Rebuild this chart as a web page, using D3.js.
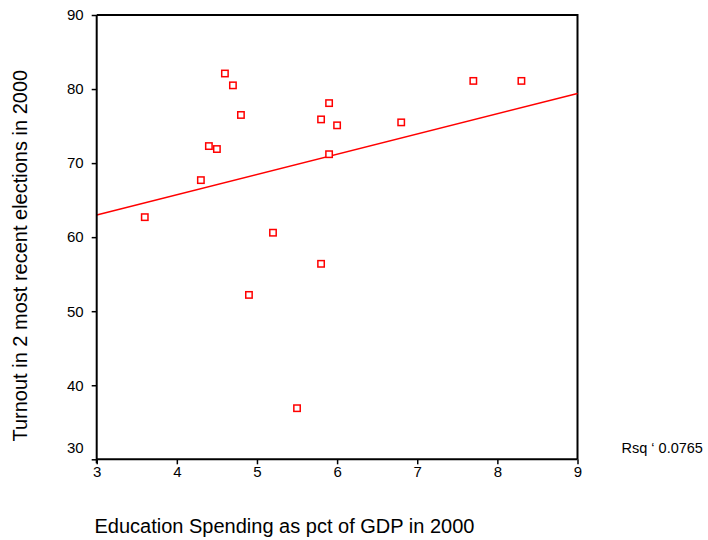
<!DOCTYPE html>
<html>
<head>
<meta charset="utf-8">
<script src="https://cdn.jsdelivr.net/npm/d3@7"></script>
<style>
  html, body { margin: 0; padding: 0; background: #fff; }
  svg { display: block; font-family: "Liberation Sans", Arial, sans-serif; }
</style>
</head>
<body>
<svg id="chart" width="708" height="540"></svg>
<script>
// Data
const eduSpending = [3.6, 4.3, 4.4, 4.5, 4.6, 4.7, 4.8, 4.9, 5.2, 5.5, 5.8, 5.8, 5.9, 5.9, 6.0, 6.8, 7.7, 8.3];
const turnout     = [62.7, 67.7, 72.3, 71.9, 82.1, 80.5, 76.5, 52.2, 60.6, 36.9, 75.9, 56.4, 78.1, 71.2, 75.1, 75.5, 81.1, 81.1];
const xTicks = [3, 4, 5, 6, 7, 8, 9];
const yTicks = [30, 40, 50, 60, 70, 80, 90];
const fitIntercept = 54.8;
const fitSlope = 2.733;
const rsqLabel = "Rsq \u2018 0.0765";
const xTitle = "Education Spending as pct of GDP in 2000";
const yTitle = "Turnout in 2 most recent elections in 2000";

const svg = d3.select("#chart");
const mLeft = 96.7, mRight = 577.5, mTop = 15, mBottom = 459.3;

const x = d3.scaleLinear().domain([3, 9]).range([mLeft, mRight]);
const y = d3.scaleLinear().domain([30, 90]).range([mBottom, mTop]);

// frame (top + right)
svg.append("path")
  .attr("d", `M${mLeft},${mTop}H${mRight}V${mBottom}`)
  .attr("fill", "none").attr("stroke", "#000").attr("stroke-width", 2);

// fit line
svg.append("line")
  .attr("x1", x(3)).attr("y1", y(fitIntercept + fitSlope * 3))
  .attr("x2", x(9)).attr("y2", y(fitIntercept + fitSlope * 9))
  .attr("stroke", "#ff0000").attr("stroke-width", 1.5);

// points
const pts = eduSpending.map((v, i) => ({x: v, y: turnout[i]}));
svg.append("g").selectAll("rect").data(pts).join("rect")
  .attr("x", d => x(d.x) - 3.2).attr("y", d => y(d.y) - 3.2)
  .attr("width", 6.4).attr("height", 6.4)
  .attr("fill", "#fff").attr("stroke", "#ff0000").attr("stroke-width", 1.5);

// axes
const xAxis = d3.axisBottom(x).tickValues(xTicks).tickSize(5).tickPadding(2).tickFormat(d3.format("d"));
const gx = svg.append("g").attr("transform", `translate(0,${mBottom})`).call(xAxis);
gx.select(".domain").attr("stroke", "#000").attr("stroke-width", 2).attr("d", `M${mLeft},0H${mRight}`);
gx.selectAll(".tick line").attr("stroke", "#000").attr("stroke-width", 1.5);
gx.selectAll(".tick text").attr("font-size", 15).attr("font-family", "Liberation Sans, Arial, sans-serif").attr("fill", "#000");

const yAxis = d3.axisLeft(y).tickValues(yTicks).tickSize(5).tickPadding(8).tickFormat(d3.format("d"));
const gy = svg.append("g").attr("transform", `translate(${mLeft},0)`).call(yAxis);
gy.select(".domain").attr("stroke", "#000").attr("stroke-width", 2).attr("d", `M0,${mTop}V${mBottom + 4}`);
gy.selectAll(".tick line").attr("stroke", "#000").attr("stroke-width", 1.5);
gy.selectAll(".tick text").attr("font-size", 15).attr("font-family", "Liberation Sans, Arial, sans-serif").attr("fill", "#000")
  .attr("dy", d => d === 30 ? "-0.45em" : "0.32em");

// titles
svg.append("text").attr("x", 94.5).attr("y", 533).attr("font-size", 20).attr("fill", "#000").text(xTitle);
svg.append("text").attr("transform", `translate(26.5,255.7) rotate(-90)`)
  .attr("text-anchor", "middle").attr("font-size", 20).attr("fill", "#000").text(yTitle);
svg.append("text").attr("x", 621.5).attr("y", 452.7).attr("font-size", 14.5).attr("fill", "#000").text(rsqLabel);
</script>
</body>
</html>
